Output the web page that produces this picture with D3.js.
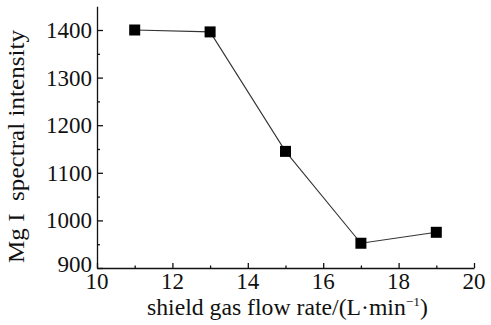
<!DOCTYPE html>
<html>
<head>
<meta charset="utf-8">
<script src="https://cdn.jsdelivr.net/npm/d3@7"></script>
<style>
body { margin: 0; background: #fff; }
</style>
</head>
<body>
<div id="chart"></div>
<script>
// shield gas flow rate (L/min) vs Mg I spectral intensity
var flowRate = [11, 13, 15, 17, 19];
var intensity = [1400, 1396, 1145, 952, 975];
var xTicks = [10, 12, 14, 16, 18, 20];
var yTicks = [900, 1000, 1100, 1200, 1300, 1400];

var width = 491, height = 325;
var font = "'Liberation Serif', 'Times New Roman', serif";
var svg = d3.select("#chart").append("svg")
	.attr("width", width)
	.attr("height", height);

var xScale = d3.scaleLinear().domain([10, 20]).range([97, 474]);
var yScale = d3.scaleLinear().domain([900, 1450]).range([268, 6.2]);

// axes, ticks pointing inward
svg.append("g")
	.attr("transform", "translate(0," + yScale(900) + ")")
	.call(d3.axisBottom(xScale).tickValues(xTicks).tickSize(-5).tickSizeOuter(0).tickFormat(""));
svg.append("g")
	.attr("transform", "translate(0," + yScale(900) + ")")
	.call(d3.axisBottom(xScale).tickValues(d3.range(11, 20, 2)).tickSize(-2.5).tickSizeOuter(0).tickFormat(""))
	.select(".domain").remove();

svg.append("g")
	.attr("transform", "translate(" + xScale(10) + ",0)")
	.call(d3.axisLeft(yScale).tickValues(yTicks).tickSize(-6).tickSizeOuter(0).tickFormat(""));
svg.append("g")
	.attr("transform", "translate(" + xScale(10) + ",0)")
	.call(d3.axisLeft(yScale).tickValues(d3.range(950, 1450, 100)).tickSize(-3).tickSizeOuter(0).tickFormat(""))
	.select(".domain").remove();

svg.selectAll(".domain, .tick line").attr("stroke", "#111").attr("stroke-width", 1.3);

// tick labels
svg.selectAll(".xlab")
	.data(xTicks)
	.enter()
	.append("text")
	.attr("class", "xlab")
	.attr("text-anchor", "middle")
	.style("font-family", font)
	.style("font-size", "23px")
	.attr("fill", "#111")
	.attr("x", function (d) { return xScale(d); })
	.attr("y", 289)
	.text(function (d) { return d; });

svg.selectAll(".ylab")
	.data(yTicks)
	.enter()
	.append("text")
	.attr("class", "ylab")
	.attr("text-anchor", "end")
	.style("font-family", font)
	.style("font-size", "23px")
	.attr("fill", "#111")
	.attr("x", 92)
	.attr("y", function (d) { return yScale(d) + (d === 900 ? 4 : 8); })
	.text(function (d) { return d; });

// axis titles
var xt = svg.append("text")
	.attr("x", 147)
	.attr("y", 315)
	.style("font-family", font)
	.style("font-size", "23px")
	.attr("fill", "#111")
	.attr("textLength", 281)
	.attr("lengthAdjust", "spacingAndGlyphs");
xt.append("tspan").text("shield gas flow rate/(L\u00b7min");
xt.append("tspan").style("font-size", "13px").attr("dy", -9).text("\u22121");
xt.append("tspan").attr("dy", 9).text(")");

svg.append("text")
	.attr("transform", "translate(24,263) rotate(-90)")
	.style("font-family", font)
	.style("font-size", "23px")
	.attr("fill", "#111")
	.attr("textLength", 233)
	.attr("lengthAdjust", "spacingAndGlyphs")
	.style("white-space", "pre")
	.text("Mg I  spectral intensity");

// line and markers
var line = d3.line()
	.x(function (d, i) { return xScale(flowRate[i]); })
	.y(function (d) { return yScale(d); });

svg.append("path")
	.datum(intensity)
	.attr("d", line)
	.attr("fill", "none")
	.attr("stroke", "#333")
	.attr("stroke-width", 1.1);

var sz = 11;
svg.selectAll("rect.pt")
	.data(intensity)
	.enter()
	.append("rect")
	.attr("class", "pt")
	.attr("x", function (d, i) { return xScale(flowRate[i]) - sz / 2; })
	.attr("y", function (d) { return yScale(d) - sz / 2; })
	.attr("width", sz)
	.attr("height", sz)
	.attr("fill", "#000");
</script>
</body>
</html>
